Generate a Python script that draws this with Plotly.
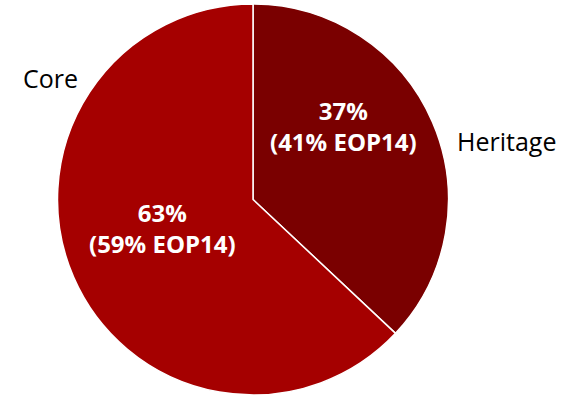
import plotly.graph_objects as go

labels = ["Heritage", "Core"]
values = [37, 63]
eop14 = [41, 59]
colors = ["#7A0000", "#A50000"]

W, H = 574, 395
fig = go.Figure()
fig.add_trace(go.Pie(
    labels=labels, values=values, sort=False, direction="clockwise", rotation=0,
    marker=dict(colors=colors, line=dict(color="white", width=1.5)),
    textinfo="none", hoverinfo="label+percent", showlegend=False,
    domain=dict(x=[57 / W, 449 / W], y=[0, 1 - 4 / H]),
))

font = "Open Sans, Tahoma, DejaVu Sans, sans-serif"
inner_pos = [(343, 126), (162, 228)]
outer_pos = [(506, 141), (50, 78)]
for i, lab in enumerate(labels):
    x, y = inner_pos[i]
    fig.add_annotation(x=x / W, y=1 - y / H, xref="paper", yref="paper", showarrow=False,
                       xanchor="center", yanchor="middle",
                       text=f"<b>{values[i]}%<br>({eop14[i]}% EOP14)</b>",
                       font=dict(family=font, size=24, color="white"), align="center")
    x, y = outer_pos[i]
    fig.add_annotation(x=x / W, y=1 - y / H, xref="paper", yref="paper", showarrow=False,
                       xanchor="center", yanchor="middle",
                       text=lab, font=dict(family=font, size=25, color="black"))

fig.update_layout(width=W, height=H, margin=dict(l=0, r=0, t=0, b=0),
                  paper_bgcolor="white", plot_bgcolor="white")
fig.write_html("out.html")
